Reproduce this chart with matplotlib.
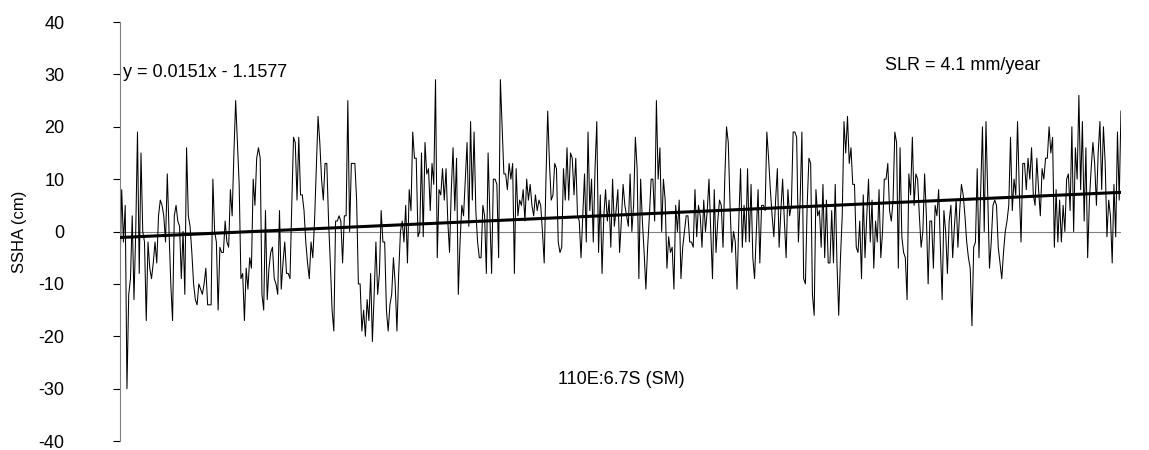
import numpy as np
import matplotlib.pyplot as plt

plt.rcParams['font.family'] = ['Liberation Sans', 'DejaVu Sans']
plt.rcParams['axes.unicode_minus'] = False

# SSHA series (cm), read block by block from the picture
blk01 = [-8, 8, -2, 5, -30, -12, -9, 3, -13, 0, 19, -8, 15, 0, -2, -17, -2, -7, -9, -6, -2, -6, 3, 6,
         5, 3, -2, 11, 0, -10, -17, 3, 5, 2, 1, -9, 0, -12, 16, 3, 1, -4, -10, -13, -14, -10, -11, -12]
blk02 = [-10, -7, -14, -14, -14, 10, 0, -2, -15, -3, -4, -4, 2, -2, -3, 8, 3, 15, 25, 17, 9, -9, -8, -17,
         -7, -11, -5, -7, 10, 5, 14, 16, 14, -12, -15, 4, -13, -7, -4, -3, -9, -10, -12, 4, -11, -6, -2, -8]
blk03 = [-8, -9, 5, 18, 17, 6, 18, 7, 7, 4, -2, -6, -9, -2, -5, 2, 12, 22, 17, 10, 6, 13, 13, 2,
         -6, -15, -19, 2, 2, 3, 2, -6, 3, 3, 25, 0, 13, 13, 13, 6, -10, -10, -19, -15, -20, -13, -17, -8]
blk04 = [-21, -12, -2, -12, -8, 4, -2, -2, -15, -19, -14, -12, -5, -10, -19, -8, 0, 2, -2, 5, -6, 8, 4, 19,
         14, 14, -1, 0, 15, -1, 17, 11, 12, 4, 13, 9, 29, -5, 8, 7, 12, 6, 12, 2, -4, 8, 16, 4]
blk05 = [14, -12, -2, 5, 3, 10, 17, 1, 21, 6, 19, 4, -2, -5, -5, 5, 3, -8, 15, 3, -8, 10, 10, 9,
         -5, 29, 20, 11, 11, 8, 13, 10, 13, -8, 12, 3, 6, 5, 8, 2, 10, 6, 9, 5, 3, 7, 4, 6]
blk06 = [5, 0, -6, 10, 23, 13, 6, 7, 13, 12, -2, -4, -3, 12, 6, 16, 6, 15, 14, 7, 14, 3, 2, -5,
         3, 11, -2, 19, 4, 10, -2, 12, 21, -4, 7, -8, 3, 8, 2, 6, -3, 10, 1, 4, 8, -4, 2, 9]
blk07 = [5, 3, 1, 11, 0, 5, 18, 12, -9, 10, 2, -4, -11, -3, 3, 10, 10, 2, 25, 10, 16, 0, 10, 6,
         -7, -1, -4, -3, -11, 5, 0, 6, -9, -3, 0, 3, 3, -2, -2, -3, 8, -1, 5, 3, -3, 6, 0, 4]
blk08 = [10, 0, -9, 8, -4, 2, 6, 5, -3, 10, 20, 17, 5, -4, 0, -2, -11, 2, 12, -3, 5, -2, 12, -2,
         9, -5, -9, 0, 8, -6, 5, 5, 4, 19, 14, 8, 3, -1, 6, 12, -3, 4, 10, 2, -5, 8, 3, 5]
blk09 = [19, 19, 18, -2, 6, 19, -9, -10, 5, 14, 13, -12, -16, 8, 3, 4, -3, 9, -5, 6, -6, -6, 4, -6,
         9, -6, -16, -5, 3, 21, 15, 22, 13, 16, 9, 9, -3, -4, 2, -9, 7, -5, 3, 10, -2, 6, -7, 2]
blk10 = [-2, 8, -5, 0, 10, 10, 13, 4, 2, 6, 19, 17, -7, 16, -1, -4, -5, -13, 11, 7, 18, 5, 11, 10,
         3, -3, 0, 11, 3, -10, 2, 2, -7, 5, 3, 8, -3, -13, 4, 0, -8, 2, 5, -5, 1, 6, -3, 4]
blk11 = [9, 7, 3, -2, -5, -7, -18, -3, -2, 12, -5, 8, 20, 0, 21, 7, -7, -2, 5, 6, 5, -3, -6, -9,
         -4, 0, 2, 5, 18, 4, 10, 7, 21, 8, -2, 13, 13, 8, 14, 10, 16, 7, 5, 14, 8, 3, 12, 10]
blk12 = [14, 14, 20, 15, 18, -3, 8, -2, 6, -2, 5, 0, 10, 11, 4, 20, 0, 16, 10, 26, 8, 21,
         2, 16, -5, 6, 12, 17, 13, 5, 15, 21, 8, 20, 13, -1, 6, 3, -6, 9, -1, 19, 6, 23]

ssha = np.array(blk01 + blk02 + blk03 + blk04 + blk05 + blk06 +
                blk07 + blk08 + blk09 + blk10 + blk11 + blk12, dtype=float)
x = np.arange(1, len(ssha) + 1)

# trend line from the equation printed on the chart
slope = 0.0151
intercept = -1.1577
trend = slope * x + intercept

fig = plt.figure(figsize=(11.49, 4.5), dpi=100)
ax = fig.add_axes([0.1044, 0.02, 0.8712, 0.931])

ax.axhline(0, color="#808080", linewidth=0.8, zorder=1)
ax.plot(x, ssha, color="black", linewidth=0.75, zorder=2)
ax.plot(x, trend, color="black", linewidth=2.2, zorder=3)

ax.set_xlim(1, len(ssha))
ax.set_ylim(-40, 40)
ax.set_yticks(np.arange(-40, 41, 10))
ax.set_xticks([])
ax.tick_params(axis="y", direction="out", length=5, width=0.8, labelsize=13, pad=35)
for s in ["top", "right", "bottom"]:
    ax.spines[s].set_visible(False)
ax.spines["left"].set_color("#808080")
ax.set_ylabel("SSHA (cm)", fontsize=12)
ax.yaxis.set_label_coords(-0.093, 0.5)

ax.text(3, 30.4, "y = 0.0151x - 1.1577", fontsize=13, va="center", ha="left")
ax.text(482, 31.7, "SLR = 4.1 mm/year", fontsize=13, va="center", ha="center")
ax.text(287, -28.3, "110E:6.7S (SM)", fontsize=13, va="center", ha="center")

fig.savefig("out.png", dpi=100)
